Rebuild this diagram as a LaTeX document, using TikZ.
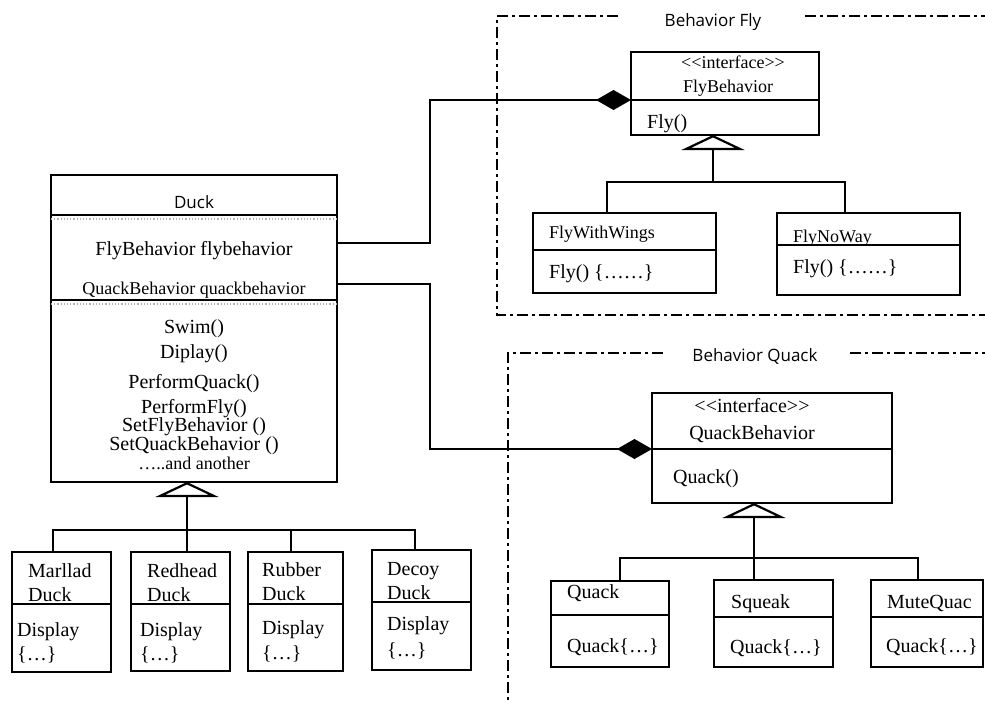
\documentclass[tikz,border=0pt]{standalone}
\usepackage{fontspec}
\setmainfont{Liberation Serif}
\setsansfont{Open Sans}
\usetikzlibrary{arrows.meta}

\begin{document}
\begin{tikzpicture}[x=1pt, y=-1pt,
    box/.style={draw, line width=2.4pt, inner sep=0pt, outer sep=0pt},
    txt/.style={inner sep=0pt, anchor=base, font=\fontsize{20}{20}\selectfont},
    stxt/.style={txt, font=\fontsize{18}{18}\selectfont},
    ltxt/.style={txt, anchor=base west},
    sltxt/.style={stxt, anchor=base west},
    ttl/.style={inner sep=0pt, anchor=base, font=\sffamily\fontsize{17}{17}\selectfont},
    sub/.style={line width=2pt},
    conn/.style={line width=2pt},
    comp/.style={conn, -{Diamond[length=35pt, width=20pt]}},
    inh/.style={conn, -{Triangle[open, length=15pt, width=63pt, line width=2.2pt]}},
    frame/.style={line width=2.4pt, dash pattern=on 11pt off 4pt on 3pt off 4pt}
  ]
  \useasboundingbox (0,0) rectangle (985,702);

  % Boxes
  \node[box, minimum width=286pt, minimum height=307pt] (duck)    at (194,328.5) {};
  \node[box, minimum width=99pt,  minimum height=120pt] (marllad) at (61.5,612)  {};
  \node[box, minimum width=99pt,  minimum height=119pt] (redhead) at (180.5,611.5) {};
  \node[box, minimum width=95pt,  minimum height=119pt] (rubber)  at (295.5,611.5) {};
  \node[box, minimum width=99pt,  minimum height=120pt] (decoy)   at (421.5,610) {};
  \node[box, minimum width=188pt, minimum height=83pt]  (flyb)    at (725,93.5)  {};
  \node[box, minimum width=183pt, minimum height=80pt]  (wings)   at (624.5,253) {};
  \node[box, minimum width=183pt, minimum height=82pt]  (noway)   at (868.5,254) {};
  \node[box, minimum width=240pt, minimum height=110pt] (quackb)  at (772,448)   {};
  \node[box, minimum width=118pt, minimum height=86pt]  (quack)   at (610,624)   {};
  \node[box, minimum width=119pt, minimum height=87pt]  (squeak)  at (773.5,623.5) {};
  \node[box, minimum width=112pt, minimum height=87pt]  (mute)    at (927,623.5) {};

  % Compartments
  \draw[sub] (duck.west |- 0,215) -- (duck.east |- 0,215);
  \draw[sub] (duck.west |- 0,300) -- (duck.east |- 0,300);
  \draw[gray!60, dotted, line width=1.2pt] (duck.west |- 0,219) -- (duck.east |- 0,219);
  \draw[gray!60, dotted, line width=1.2pt] (duck.west |- 0,304) -- (duck.east |- 0,304);
  \draw[sub] (marllad.west |- 0,604) -- (marllad.east |- 0,604);
  \draw[sub] (redhead.west |- 0,604) -- (redhead.east |- 0,604);
  \draw[sub] (rubber.west |- 0,604) -- (rubber.east |- 0,604);
  \draw[sub] (decoy.west |- 0,602) -- (decoy.east |- 0,602);
  \draw[sub] (flyb.west |- 0,100) -- (flyb.east |- 0,100);
  \draw[sub] (wings.west |- 0,250) -- (wings.east |- 0,250);
  \draw[sub] (noway.west |- 0,245) -- (noway.east |- 0,245);
  \draw[sub] (quackb.west |- 0,449) -- (quackb.east |- 0,449);
  \draw[sub] (quack.west |- 0,615) -- (quack.east |- 0,615);
  \draw[sub] (squeak.west |- 0,617) -- (squeak.east |- 0,617);
  \draw[sub] (mute.west |- 0,617) -- (mute.east |- 0,617);

  % Duck texts
  \node[ttl] (duckname) at (194,208) {Duck};
  \node[txt]  (flyattr)   at (194,255) {FlyBehavior flybehavior};
  \node[stxt] (quackattr) at (194,294) {QuackBehavior quackbehavior};
  \node[txt]  (mswim)     at (194,333)   {Swim()};
  \node[txt]  (mdisp)     at (194,358.5) {Diplay()};
  \node[txt]  (mpq)       at (194,388.5) {PerformQuack()};
  \node[txt]  (mpf)       at (194,413.5) {PerformFly()};
  \node[txt]  (msfb)      at (194,431.5) {SetFlyBehavior ()};
  \node[txt]  (msqb)      at (194,450)   {SetQuackBehavior ()};
  \node[stxt] (mmore)     at (194,469)   {…..and another};

  % Duck subclasses
  \node[ltxt] (marllad1) at (28,577)  {Marllad};
  \node[ltxt] (marllad2) at (28,601)  {Duck};
  \node[ltxt] (marllad3) at (17,636)  {Display};
  \node[ltxt] (marllad4) at (17,660)  {\{…\}};
  \node[ltxt] (redhead1) at (147,577) {Redhead};
  \node[ltxt] (redhead2) at (147,601) {Duck};
  \node[ltxt] (redhead3) at (140,636) {Display};
  \node[ltxt] (redhead4) at (140,660) {\{…\}};
  \node[ltxt] (rubber1)  at (262,576) {Rubber};
  \node[ltxt] (rubber2)  at (262,600) {Duck};
  \node[ltxt] (rubber3)  at (262,634) {Display};
  \node[ltxt] (rubber4)  at (262,659) {\{…\}};
  \node[ltxt] (decoy1)   at (387,575) {Decoy};
  \node[ltxt] (decoy2)   at (387,599) {Duck};
  \node[ltxt] (decoy3)   at (387,630) {Display};
  \node[ltxt] (decoy4)   at (387,656) {\{…\}};

  % Fly texts
  \node[stxt]  (flyst)   at (733,68)  {<\kern0pt<interface>\kern0pt>};
  \node[stxt]  (flyname) at (728,92)  {FlyBehavior};
  \node[ltxt]  (flyop)   at (647,128) {Fly()};
  \node[sltxt] (wings1)  at (549,238) {FlyWithWings};
  \node[ltxt]  (wings2)  at (549,278) {Fly() \{……\}};
  \node[sltxt] (noway1)  at (793,242) {FlyNoWay};
  \node[ltxt]  (noway2)  at (793,273) {Fly() \{……\}};

  % Quack texts
  \node[txt]  (quackst)   at (752,412) {<\kern0pt<interface>\kern0pt>};
  \node[txt]  (quackname) at (752,439) {QuackBehavior};
  \node[ltxt] (quackop)   at (673,483) {Quack()};
  \node[ltxt] (quack1)    at (567,598) {Quack};
  \node[ltxt] (quack2)    at (567,652) {Quack\{…\}};
  \node[ltxt] (squeak1)   at (731,608) {Squeak};
  \node[ltxt] (squeak2)   at (730,653) {Quack\{…\}};
  \node[ltxt] (mute1)     at (887,608) {MuteQuac};
  \node[ltxt] (mute2)     at (886,652) {Quack\{…\}};

  % Frames
  \node[ttl] (flytitle)   at (713,26)  {Behavior Fly};
  \node[ttl] (quacktitle) at (755,361) {Behavior Quack};
  \draw[frame] (618,16) -- (497,16) -- (497,315) -- (985,315);
  \draw[frame] (805,16) -- (985,16);
  \draw[frame] (663,353) -- (508,353) -- (508,702);
  \draw[frame] (850,353) -- (985,353);

  % Composition
  \draw[comp] (duck.east |- 0,243) -- (430,243) |- (flyb.west |- 0,100);
  \draw[comp] (duck.east |- 0,284) -- (430,284) |- (quackb.west |- 0,449);

  % Inheritance
  \draw[inh] (187,0 |- redhead.north) -- (187,0 |- duck.south);
  \draw[conn] (53,0 |- marllad.north) -- (53,530) -- (415,530) -- (415,0 |- decoy.north);
  \draw[conn] (291,530) -- (291,0 |- rubber.north);
  \draw[inh] (713,182) -- (713,0 |- flyb.south);
  \draw[conn] (607,0 |- wings.north) -- (607,182) -- (845,182) -- (845,0 |- noway.north);
  \draw[inh] (754,0 |- squeak.north) -- (754,0 |- quackb.south);
  \draw[conn] (620,0 |- quack.north) -- (620,558) -- (918,558) -- (918,0 |- mute.north);
\end{tikzpicture}
\end{document}
